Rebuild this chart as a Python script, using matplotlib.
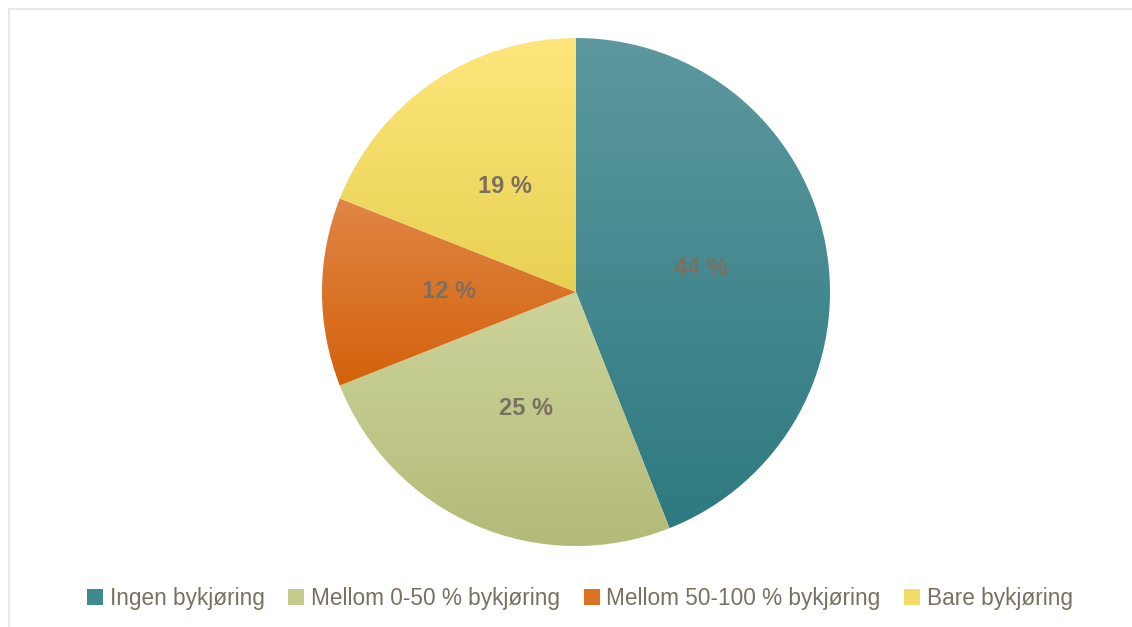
import numpy as np
import matplotlib
matplotlib.use("Agg")
import matplotlib.pyplot as plt
from matplotlib.patches import Patch
from matplotlib.lines import Line2D
from matplotlib.colors import LinearSegmentedColormap

plt.rcParams['font.family'] = ['Liberation Sans', 'DejaVu Sans']

categories = ["Ingen bykjøring", "Mellom 0-50 % bykjøring",
              "Mellom 50-100 % bykjøring", "Bare bykjøring"]
shares = [44, 25, 12, 19]

# top / bottom colour of each slice's vertical gradient
top_colors = ["#5d989f", "#cdd49b", "#e08645", "#fee67b"]
bottom_colors = ["#2d7a80", "#b3ba77", "#d3620b", "#e7d152"]
mid_colors = ["#3f8990", "#c3ca8a", "#da7226", "#f2dc66"]

text_color = "#7a705f"

W, H = 1132, 627
fig = plt.figure(figsize=(W / 100, H / 100), dpi=100)

# light frame along the top and left edges
frame_color = "#e6e6e6"
fig.add_artist(Line2D([8.5 / W, 8.5 / W], [0, 1 - 9 / H], transform=fig.transFigure,
                      color=frame_color, lw=1.3))
fig.add_artist(Line2D([8.5 / W, 1], [1 - 9 / H, 1 - 9 / H], transform=fig.transFigure,
                      color=frame_color, lw=1.3))

cx, cy, r = 576, 292, 254
ax = fig.add_axes([(cx - r) / W, (H - cy - r) / H, 2 * r / W, 2 * r / H])

wedges, texts, autotexts = ax.pie(
    shares, startangle=90, counterclock=False, radius=1,
    colors=mid_colors, autopct=lambda p: f"{p:.0f} %", pctdistance=0.5,
    wedgeprops=dict(linewidth=0),
    textprops=dict(color=text_color, fontsize=17, fontweight='bold'),
)
ax.set_xlim(-1, 1)
ax.set_ylim(-1, 1)
ax.set_aspect('equal')
ax.axis('off')

grad = np.linspace(0, 1, 256).reshape(-1, 1)
for w, c_top, c_bot in zip(wedges, top_colors, bottom_colors):
    verts = w.get_path().vertices
    x0, x1 = verts[:, 0].min(), verts[:, 0].max()
    y0, y1 = verts[:, 1].min(), verts[:, 1].max()
    cmap = LinearSegmentedColormap.from_list("g", [c_bot, c_top])
    im = ax.imshow(grad, cmap=cmap, origin='lower', aspect='auto',
                   extent=(x0, x1, y0, y1), interpolation='bilinear', zorder=w.get_zorder())
    im.set_clip_path(w)
    w.set_facecolor('none')
for t in autotexts:
    t.set_zorder(5)

handles = [Patch(facecolor=c, edgecolor='none') for c in mid_colors]
fig.legend(handles, categories, loc='center', bbox_to_anchor=(580 / W, 29 / H),
           ncol=4, frameon=False, fontsize=16.3, labelcolor=text_color,
           handlelength=0.7, handleheight=0.7, handletextpad=0.3,
           columnspacing=1.05)

fig.savefig("out.png", dpi=100, facecolor='white')
